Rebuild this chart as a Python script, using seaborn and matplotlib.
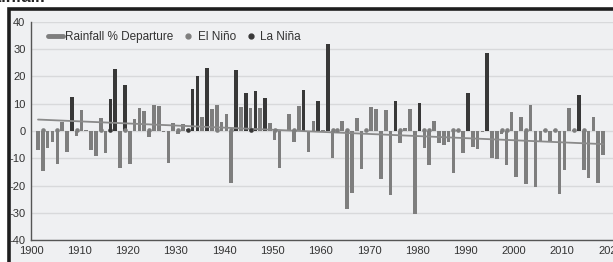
import numpy as np
import pandas as pd
import matplotlib
matplotlib.use("Agg")
import matplotlib.pyplot as plt
from matplotlib.lines import Line2D
from matplotlib.patches import Rectangle
from matplotlib.ticker import FuncFormatter
import seaborn as sns

# ---------------- data ----------------
years = list(range(1901, 2019))
rain_departure = [
    -7.0, -14.6, -6.4, -3.9, -12.2, 3.4, -7.6, 12.6, -1.7, 7.7,      # 1901-1910
    0.3, -7.0, -9.2, 4.9, -8.0, 11.7, 22.6, -13.7, 16.9, -12.2,      # 1911-1920
    4.3, 8.3, 7.3, -2.3, 9.5, 9.2, -0.3, -11.9, 2.8, -1.0,           # 1921-1930
    2.4, 0.8, 15.3, 20.3, 5.0, 23.1, 8.0, 9.5, 3.4, 6.1,             # 1931-1940
    -19.2, 22.5, 8.9, 13.8, 8.3, 14.8, 8.3, 12.2, 3.1, -3.3,         # 1941-1950
    -13.5, 0.3, 6.1, -3.9, 9.2, 15.0, -7.8, 3.8, 11.0, 0.5,          # 1951-1960
    32.0, -10.0, 0.5, 3.7, -28.5, -22.9, 4.6, -14.1, 0.8, 8.9,       # 1961-1970
    8.0, -17.6, 7.7, -23.5, 11.1, -4.5, 1.0, 8.0, -30.5, 10.4,       # 1971-1980
    -6.4, -12.5, 3.8, -4.5, -5.1, -3.9, -15.5, 0.5, -8.0, 13.8,      # 1981-1990
    -6.0, -6.5, -0.5, 28.8, -10.0, -10.4, -1.0, -12.5, 7.0, -16.8,   # 1991-2000
    5.0, -19.5, 9.4, -20.4, -3.7, 0.5, -3.9, 0.5, -23.2, -14.3,      # 2001-2010
    8.3, 0.5, 13.2, -14.3, -17.4, 5.0, -19.0, -8.8,                  # 2011-2018
]
dark_bar_years = [1908, 1916, 1917, 1919, 1933, 1934, 1936, 1942, 1944, 1946,
                  1948, 1956, 1959, 1961, 1975, 1980, 1990, 1994, 2013]
el_nino_years = [1902, 1905, 1909, 1914, 1919, 1924, 1930, 1938, 1941, 1950,
                 1954, 1962, 1963, 1965, 1969, 1976, 1981, 1982, 1987, 1988,
                 1997, 1998, 2002, 2006, 2008, 2012, 2014]
la_nina_years = [1916, 1932, 1945]
marker_level = 0.5
y_ticks = [-40, -30, -20, -10, 0, 10, 20, 30, 40]
x_ticks = list(range(1900, 2030, 10))
legend_labels = ["Rainfall % Departure", "El Niño", "La Niña"]

# ---------------- style ----------------
W, H = 613, 262
bg = "#eff0f2"
gray = "#7e7e7e"
dark = "#383838"
sns.set_theme(style="white")
plt.rcParams["font.family"] = ["Liberation Sans Narrow", "Liberation Sans", "DejaVu Sans"]
plt.rcParams["axes.unicode_minus"] = False

fig = plt.figure(figsize=(W / 100, H / 100), dpi=100, facecolor="white")

# outer frame panel (cut off at right and bottom)
frame = Rectangle((8.5 / W, -0.2), 1.5, (H - 9.5) / H + 0.2, transform=fig.transFigure,
                  facecolor=bg, edgecolor="#1e1e1e", linewidth=2.6, zorder=-10)
fig.patches.append(frame)

# cut-off title fragment at top
fig.text(46 / W, (H - 2.5) / H, "Rainfall:", ha="right", va="baseline",
         fontsize=12, fontweight="bold", color="#222222")

ax_left, ax_bottom = 31 / W, 22 / H
ax = fig.add_axes([ax_left, ax_bottom, (W - 31) / W, (240 - 22) / H])
ax.set_zorder(1)
ax.set_facecolor(bg)

df = pd.DataFrame({"year": years, "value": rain_departure})
df["xpos"] = df["year"] + 0.45
df["phase"] = np.where(df["year"].isin(dark_bar_years), "dark", "normal")

sns.barplot(data=df, x="xpos", y="value", hue="phase",
            palette={"normal": gray, "dark": dark}, native_scale=True,
            width=0.75, dodge=False, errorbar=None, legend=False, ax=ax,
            linewidth=0, zorder=3)

# trend line
sns.regplot(data=df, x="xpos", y="value", scatter=False, ci=None, truncate=True,
            line_kws={"color": "#8a8a8a", "lw": 1.3, "zorder": 4}, ax=ax)

# ENSO markers
en = pd.DataFrame({"x": np.array(el_nino_years) + 0.45, "y": marker_level})
ln = pd.DataFrame({"x": np.array(la_nina_years) + 0.45, "y": marker_level})
sns.scatterplot(data=en, x="x", y="y", color=gray, s=11, linewidth=0, ax=ax, zorder=5)
sns.scatterplot(data=ln, x="x", y="y", color=dark, s=11, linewidth=0, ax=ax, zorder=5)

ax.set_xlim(1900, 1900 + (W - 31) / 4.83)
ax.set_ylim(-40, 40)
ax.set_yticks(y_ticks)
ax.yaxis.set_major_formatter(FuncFormatter(lambda v, p: ("-" if v < 0 else "") + f"{abs(int(round(v)))}"))
ax.set_xticks(x_ticks)
ax.xaxis.set_major_formatter(FuncFormatter(lambda v, p: f"{int(round(v))}"))
ax.set_xlabel("")
ax.set_ylabel("")
ax.grid(axis="y", color="#d8d9db", linewidth=1, zorder=0)
ax.set_axisbelow(True)
for s in ["top", "right"]:
    ax.spines[s].set_visible(False)
for s in ["left", "bottom"]:
    ax.spines[s].set_color("#555555")
    ax.spines[s].set_linewidth(1)
ax.tick_params(axis="x", direction="in", length=3, color="#666666", labelsize=8,
               labelcolor="#333333", pad=4)
ax.tick_params(axis="y", length=0, labelsize=8, labelcolor="#333333", pad=4)
for lab in ax.get_yticklabels() + ax.get_xticklabels():
    lab.set_fontfamily(["Liberation Sans Narrow", "Liberation Sans", "DejaVu Sans"])

handles = [Line2D([], [], color=gray, lw=3.5),
           Line2D([], [], color=gray, marker="o", ls="", markersize=3.5),
           Line2D([], [], color=dark, marker="o", ls="", markersize=3.5)]
ax.legend(handles, legend_labels, loc="center left", ncol=3,
          bbox_to_anchor=(48 / W, (H - 37) / H), bbox_transform=fig.transFigure,
          frameon=False, fontsize=8.5, handlelength=1.3, handletextpad=0.15,
          columnspacing=0.6, borderaxespad=0, borderpad=0)
for t in ax.get_legend().get_texts():
    t.set_color("#333333")

fig.savefig("out.png", dpi=100, facecolor="white")
